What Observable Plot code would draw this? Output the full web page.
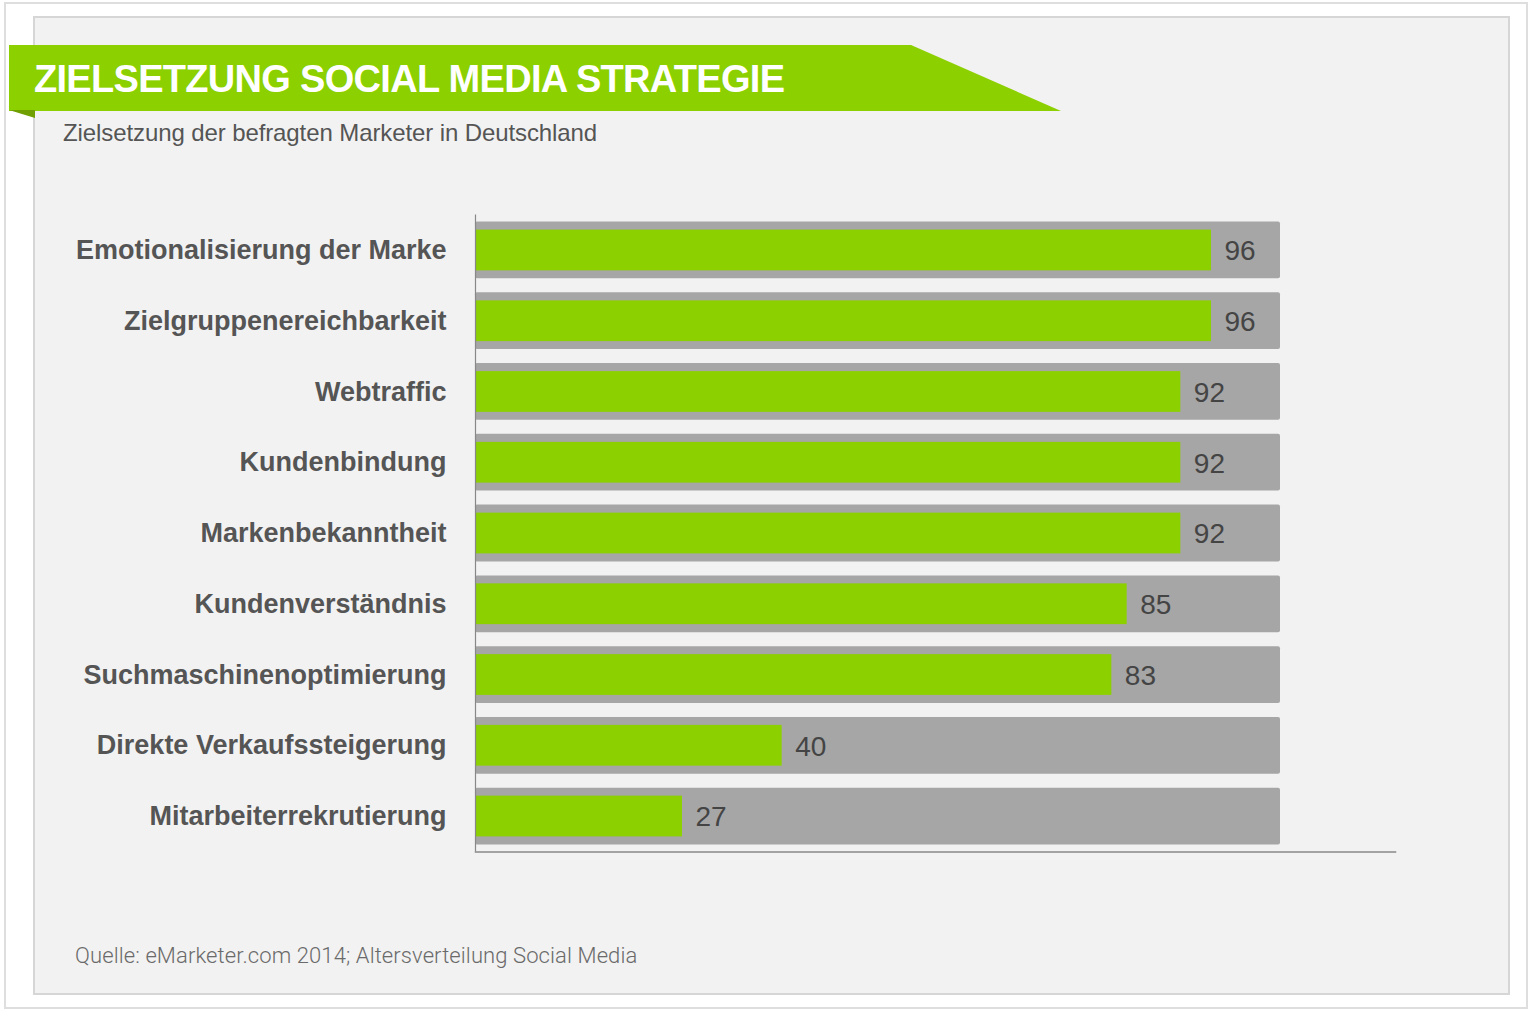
<!DOCTYPE html>
<html>
<head>
<meta charset="utf-8">
<script src="https://cdn.jsdelivr.net/npm/d3@7"></script>
<script src="https://cdn.jsdelivr.net/npm/@observablehq/plot@0.6"></script>
<style>
  html, body { margin: 0; padding: 0; background: #ffffff; }
  #frame { position: relative; width: 1530px; height: 1012px; overflow: hidden; font-family: "Liberation Sans", Arial, sans-serif; }
  .abs { position: absolute; }
  #outer { left: 4px; top: 2px; width: 1524px; height: 1007px; border: 2px solid #dedede; box-sizing: border-box; }
  #panel { left: 33px; top: 16px; width: 1477px; height: 979px; background: #f2f2f2; border: 2px solid #d6d6d6; box-sizing: border-box; }
  #banner { left: 9px; top: 45px; width: 1052px; height: 66px; background: #8cd000;
            clip-path: polygon(0 0, 902px 0, 100% 100%, 0 100%); }
  #fold { left: 9px; top: 110px; width: 26px; height: 8px; background: #6f9f00;
          clip-path: polygon(0 0, 100% 0, 100% 100%); }
  #title { left: 34px; top: 60px; font-size: 38px; line-height: 38px; font-weight: bold; color: #ffffff; letter-spacing: -0.7px; white-space: nowrap; }
  #subtitle { left: 63px; top: 121px; font-size: 24px; line-height: 24px; color: #555555; white-space: nowrap; letter-spacing: -0.1px; }
  #chart { left: 0; top: 0; }
  #caption { left: 75px; top: 945px; font-size: 22px; line-height: 22px; color: #6a6a6a; white-space: nowrap; font-family: Roboto, "Liberation Sans", sans-serif; font-weight: 300; letter-spacing: 0.1px; }
</style>
</head>
<body>
<div id="frame">
  <div id="outer" class="abs"></div>
  <div id="panel" class="abs"></div>
  <div id="banner" class="abs"></div>
  <div id="fold" class="abs"></div>
  <div id="title" class="abs">ZIELSETZUNG SOCIAL MEDIA STRATEGIE</div>
  <div id="subtitle" class="abs">Zielsetzung der befragten Marketer in Deutschland</div>
  <div id="chart" class="abs"></div>
  <div id="caption" class="abs">Quelle: eMarketer.com 2014; Altersverteilung Social Media</div>
</div>
<script>
const categories = [
  "Emotionalisierung der Marke",
  "Zielgruppenereichbarkeit",
  "Webtraffic",
  "Kundenbindung",
  "Markenbekanntheit",
  "Kundenverständnis",
  "Suchmaschinenoptimierung",
  "Direkte Verkaufssteigerung",
  "Mitarbeiterrekrutierung"
];
const values = [96, 96, 92, 92, 92, 85, 83, 40, 27];
const trackValue = 105;
const xDomain = [0, 120];

const data = categories.map((c, i) => ({ category: c, value: values[i], track: trackValue }));

const chart = Plot.plot({
  width: 1530,
  height: 1012,
  marginLeft: 475,
  marginRight: 135,
  marginTop: 214.6,
  marginBottom: 160.6,
  style: { background: "transparent", fontFamily: "'Liberation Sans', Arial, sans-serif" },
  x: { domain: xDomain, axis: null },
  y: { domain: categories, padding: 0, round: false, label: null, axis: null },
  marks: [
    Plot.barX(data, { y: "category", x: "track", fill: "#a6a6a6", rx: 2, insetTop: 7, insetBottom: 7 }),
    Plot.barX(data, { y: "category", x: "value", fill: "#8cd000", insetTop: 15, insetBottom: 15 }),
    Plot.text(data, { y: "category", x: "value", text: d => String(d.value), dx: 13, dy: 1, textAnchor: "start", fill: "#444444", fontSize: 28, letterSpacing: 1.5 }),
    Plot.axisY({ tickSize: 0, tickPadding: 29, fontSize: 27, fontWeight: "bold", color: "#555555", label: null }),
    Plot.ruleX([0], { stroke: "#888888", strokeWidth: 1.2 }),
    Plot.frame({ anchor: "bottom", stroke: "#888888", strokeWidth: 1.5 })
  ]
});
document.getElementById("chart").appendChild(chart);
</script>
</body>
</html>
